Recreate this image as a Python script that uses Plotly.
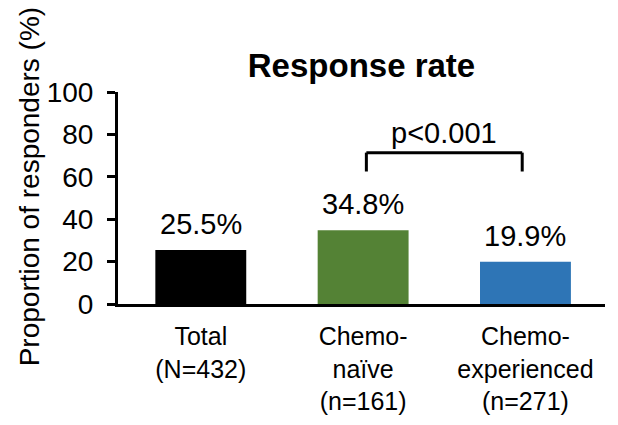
import plotly.graph_objects as go

categories = ["Total<br>(N=432)", "Chemo-<br>naïve<br>(n=161)", "Chemo-<br>experienced<br>(n=271)"]
values = [25.5, 34.8, 19.9]
value_labels = ["25.5%", "34.8%", "19.9%"]
colors = ["#000000", "#548235", "#2E75B6"]
y_ticks = [0, 20, 40, 60, 80, 100]
p_label = "p<0.001"
bracket_pair = [1, 2]
bracket_top = 71.4
bracket_bottom = 62.5

FONT = "Liberation Sans, Arial, sans-serif"
xpos = list(range(len(categories)))

W, H = 610, 417  # page has an 8px body margin

fig = go.Figure()
fig.add_trace(go.Bar(x=xpos, y=values, marker=dict(color=colors, line=dict(width=0)),
                     width=0.56, showlegend=False, hoverinfo="skip"))

for x, v, t in zip(xpos, values, value_labels):
    fig.add_annotation(x=x, y=v, text=t, showarrow=False, yanchor="bottom", yshift=8,
                       font=dict(size=29, color="black", family=FONT))

x0, x1 = bracket_pair[0] + 0.02, bracket_pair[1] - 0.02
fig.add_shape(type="line", x0=x0, x1=x1, y0=bracket_top, y1=bracket_top, line=dict(color="black", width=3))
fig.add_shape(type="line", x0=x0, x1=x0, y0=bracket_bottom, y1=bracket_top, line=dict(color="black", width=3))
fig.add_shape(type="line", x0=x1, x1=x1, y0=bracket_bottom, y1=bracket_top, line=dict(color="black", width=3))
fig.add_annotation(x=(bracket_pair[0] + bracket_pair[1]) / 2, y=bracket_top, text=p_label, showarrow=False,
                   yanchor="bottom", yshift=2, font=dict(size=29, color="black", family=FONT))

fig.add_annotation(x=0, xref="paper", xshift=-89, y=0.555, yref="paper", text="Proportion of responders (%)",
                   textangle=-90, showarrow=False, xanchor="center", yanchor="middle",
                   font=dict(size=28, color="black", family=FONT))

fig.update_layout(
    width=W, height=H,
    margin=dict(l=110, r=13, t=84, b=121, autoexpand=False),
    paper_bgcolor="white", plot_bgcolor="white",
    title=dict(text="<b>Response rate</b>", x=0.5, xref="paper", xanchor="center",
               y=1 - 57 / H, yref="container", yanchor="middle",
               font=dict(size=33, color="black", family=FONT)),
    font=dict(family=FONT, color="black"),
    xaxis=dict(range=[-0.51, 2.49], tickvals=xpos, ticktext=categories, showline=True,
               linecolor="black", linewidth=3, ticks="", showgrid=False, zeroline=False,
               automargin=False, ticklabelstandoff=8,
               tickfont=dict(size=25, color="black", family=FONT), fixedrange=True),
    yaxis=dict(range=[0, 100], tickvals=y_ticks, showline=True, linecolor="black", linewidth=3,
               ticks="outside", ticklen=8, tickwidth=3, tickcolor="black", showgrid=False,
               zeroline=False, ticklabelstandoff=8, automargin=False,
               tickfont=dict(size=28, color="black", family=FONT), fixedrange=True),
    bargap=0.44,
)

fig.write_html("out.html", config={"displayModeBar": False})
